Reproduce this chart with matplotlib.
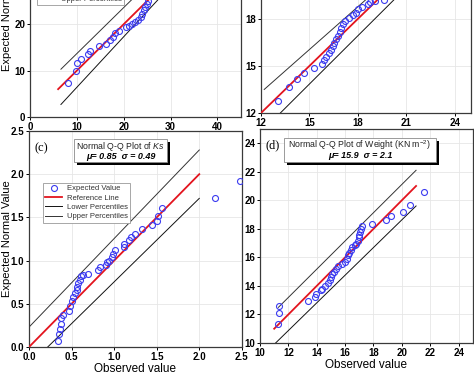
import matplotlib
matplotlib.use('Agg')
import matplotlib.pyplot as plt
from matplotlib.patches import Rectangle
import numpy as np

plt.rcParams['font.family'] = ['Liberation Sans', 'DejaVu Sans']
plt.rcParams['mathtext.fontset'] = 'custom'
plt.rcParams['mathtext.rm'] = 'Liberation Sans'
plt.rcParams['mathtext.it'] = 'Liberation Sans:italic'
plt.rcParams['mathtext.bf'] = 'Liberation Sans:bold'

# (a) - top left (only lower part visible)
a_obs = [8.0, 9.9, 10.1, 10.9, 12.3, 12.9, 14.8, 16.3, 17.1, 17.6, 18.2, 18.9,
         20.4, 21.1, 21.8, 22.5, 23.0, 23.6, 23.9, 24.3, 24.6, 25.0, 25.1]
a_exp = [7.4, 10.0, 11.6, 12.6, 13.6, 14.3, 15.2, 15.7, 16.6, 17.3, 18.0, 18.5,
         19.3, 19.6, 20.0, 20.5, 20.9, 21.5, 22.2, 23.0, 23.7, 24.4, 24.9]
a_ref = ([6.0, 30.0], [6.0, 30.0])
a_upper = ([6.6, 30.0], [10.3, 33.5])
a_lower = ([6.6, 30.0], [2.7, 28.2])

# (b) - top right (only lower part visible)
b_obs = [13.04, 13.76, 14.24, 14.65, 15.27, 15.77, 15.93, 16.04, 16.18, 16.35,
         16.45, 16.55, 16.66, 16.76, 16.87, 16.93, 17.07, 17.22, 17.42, 17.69,
         17.90, 18.00, 18.27, 18.63, 18.73, 19.04, 19.6]
b_exp = [12.74, 13.65, 14.18, 14.58, 14.86, 15.14, 15.39, 15.56, 15.81, 16.03,
         16.24, 16.49, 16.70, 16.92, 17.19, 17.40, 17.68, 17.89, 18.04, 18.25,
         18.40, 18.61, 18.78, 18.95, 19.10, 19.14, 19.2]
b_ref = ([12.0, 21.0], [12.0, 21.0])
b_upper = ([12.2, 21.0], [13.5, 21.5])
b_lower = ([13.2, 21.0], [12.0, 20.0])

# (c) - Ks
ks_obs = [0.34, 0.35, 0.36, 0.37, 0.38, 0.40, 0.47, 0.48, 0.50, 0.52, 0.54, 0.56,
          0.56, 0.57, 0.60, 0.61, 0.63, 0.69, 0.81, 0.83, 0.90, 0.92, 0.94, 0.97,
          0.99, 1.01, 1.11, 1.12, 1.18, 1.20, 1.24, 1.33, 1.44, 1.50, 1.52, 1.56,
          2.18, 2.48]
ks_exp = [0.07, 0.15, 0.21, 0.27, 0.33, 0.37, 0.42, 0.48, 0.53, 0.58, 0.62, 0.66,
          0.69, 0.74, 0.78, 0.82, 0.83, 0.85, 0.89, 0.92, 0.95, 0.98, 1.00, 1.04,
          1.08, 1.12, 1.16, 1.19, 1.24, 1.27, 1.31, 1.36, 1.41, 1.46, 1.52, 1.61,
          1.73, 1.92]
ks_ref = ([0.0, 2.0], [0.0, 2.0])
ks_upper = ([0.0, 2.0], [0.23, 2.28])
ks_lower = ([0.22, 2.0], [0.0, 1.72])

# (d) - Weight
wt_obs = [11.25, 11.36, 11.36, 13.36, 13.9, 13.93, 14.3, 14.4, 14.6, 14.8, 14.9,
          15.0, 15.1, 15.25, 15.35, 15.5, 15.8, 16.0, 16.1, 16.2, 16.3, 16.4, 16.5,
          16.7, 16.8, 16.9, 16.95, 17.0, 17.05, 17.1, 17.2, 17.9, 18.85, 19.2,
          20.1, 20.6, 21.55]
wt_exp = [11.3, 12.13, 12.6, 12.95, 13.2, 13.4, 13.7, 13.8, 14.0, 14.2, 14.4,
          14.6, 14.8, 15.0, 15.2, 15.4, 15.55, 15.7, 15.9, 16.15, 16.3, 16.55, 16.7,
          16.85, 16.95, 17.15, 17.4, 17.55, 17.8, 18.0, 18.2, 18.35, 18.6, 18.9,
          19.2, 19.7, 20.55]
wt_ref = ([11.0, 21.0], [11.0, 21.0])
wt_upper = ([11.3, 21.0], [12.5, 22.1])
wt_lower = ([11.1, 21.0], [10.0, 19.6])

blue = '#3b3bf0'
red = '#e3141e'

fig = plt.figure(figsize=(4.74, 3.75), dpi=100)
ax_a = fig.add_axes([0.0633, 0.688, 0.445, 0.557])
ax_b = fig.add_axes([0.5506, 0.6987, 0.443, 0.544])
ax_c = fig.add_axes([0.0612, 0.0747, 0.449, 0.576])
ax_d = fig.add_axes([0.5485, 0.0853, 0.449, 0.571])


def qq_panel(ax, obs, exp, ref, upper, lower, lim, ticks, fmt):
    ax.plot(upper[0], upper[1], color='#333333', lw=0.7, label='Upper Percentiles', zorder=2)
    ax.plot(lower[0], lower[1], color='#111111', lw=0.7, label='Lower Percentiles', zorder=2)
    ax.plot(ref[0], ref[1], color=red, lw=1.3, label='Reference Line', zorder=3)
    ax.plot(obs, exp, 'o', mfc='none', mec=blue, mew=0.8, ms=4.3,
            label='Expected Value', zorder=4)
    ax.set_xlim(lim)
    ax.set_ylim(lim)
    ax.set_xticks(ticks)
    ax.set_yticks(ticks)
    ax.set_xticklabels([fmt % t for t in ticks])
    ax.set_yticklabels([fmt % t for t in ticks])
    ax.grid(True, color='#e6e6e6', lw=0.6)
    ax.set_axisbelow(True)
    ax.tick_params(direction='out', length=2.5, width=0.7, pad=1, labelsize=7)
    for lab in ax.get_xticklabels() + ax.get_yticklabels():
        lab.set_fontweight('bold')
    for s in ax.spines.values():
        s.set_color('#3a3a3a')
        s.set_linewidth(0.9)


def add_legend(ax, anchor, loc):
    h, l = ax.get_legend_handles_labels()
    order = [3, 2, 1, 0]
    leg = ax.legend([h[i] for i in order], [l[i] for i in order], loc=loc,
                    bbox_to_anchor=anchor, borderaxespad=0, fontsize=5.5,
                    frameon=True, fancybox=False, edgecolor='#999999',
                    framealpha=1, labelspacing=0.25, handlelength=2.2,
                    handletextpad=0.6, borderpad=0.3)
    leg.get_frame().set_linewidth(0.6)
    for t in leg.get_texts():
        t.set_color('#333333')


def title_box(ax, x0, x1, y0, y1, line1, line2, yl1, yl2):
    ax.add_patch(Rectangle((x0 + 0.014, y0 - 0.014), x1 - x0, y1 - y0,
                           transform=ax.transAxes, fc='black', ec='none',
                           zorder=6, clip_on=False))
    ax.add_patch(Rectangle((x0, y0), x1 - x0, y1 - y0, transform=ax.transAxes,
                           fc='white', ec='#8a8a8a', lw=0.6, zorder=7, clip_on=False))
    xc = (x0 + x1) / 2
    ax.text(xc, yl1, line1, transform=ax.transAxes, ha='center', va='center',
            fontsize=6.3, color='#222222', zorder=8)
    ax.text(xc, yl2, line2, transform=ax.transAxes, ha='center', va='center',
            fontsize=6.5, fontweight='bold', fontstyle='italic', color='black', zorder=8)


qq_panel(ax_a, a_obs, a_exp, a_ref, a_upper, a_lower, (0, 45), [0, 10, 20, 30, 40], '%d')
qq_panel(ax_b, b_obs, b_exp, b_ref, b_upper, b_lower, (12, 25), [12, 15, 18, 21, 24], '%d')
qq_panel(ax_c, ks_obs, ks_exp, ks_ref, ks_upper, ks_lower, (0, 2.5),
         [0.0, 0.5, 1.0, 1.5, 2.0, 2.5], '%.1f')
qq_panel(ax_d, wt_obs, wt_exp, wt_ref, wt_upper, wt_lower, (10, 25),
         [10, 12, 14, 16, 18, 20, 22, 24], '%d')

add_legend(ax_a, (0.033, 0.536), 'lower left')
add_legend(ax_c, (0.066, 0.76), 'upper left')

ax_a.set_ylabel('Expected Normal Value', fontsize=8)
ax_c.set_ylabel('Expected Normal Value', fontsize=8)
ax_a.yaxis.set_label_coords(-0.085, 0.5)
ax_c.yaxis.set_label_coords(-0.08, 0.5)
ax_c.set_xlabel('Observed value', fontsize=8.5, labelpad=1)
ax_d.set_xlabel('Observed value', fontsize=8.5, labelpad=1)

title_box(ax_c, 0.211, 0.648, 0.856, 0.963, r'Normal Q-Q Plot of $\mathit{Ks}$',
          u'\u03bc= 0.85  \u03c3 = 0.49', 0.930, 0.884)
title_box(ax_d, 0.113, 0.826, 0.846, 0.958, r'Normal Q-Q Plot of Weight (KN m$^{-2}$)',
          u'\u03bc= 15.9  \u03c3 = 2.1', 0.925, 0.874)

ax_c.text(0.056, 0.92, '(c)', transform=ax_c.transAxes, ha='center', va='center',
          fontsize=9, family='Liberation Serif', zorder=9)
ax_d.text(0.06, 0.922, '(d)', transform=ax_d.transAxes, ha='center', va='center',
          fontsize=9, family='Liberation Serif', zorder=9)

fig.savefig('out.png', dpi=100)
